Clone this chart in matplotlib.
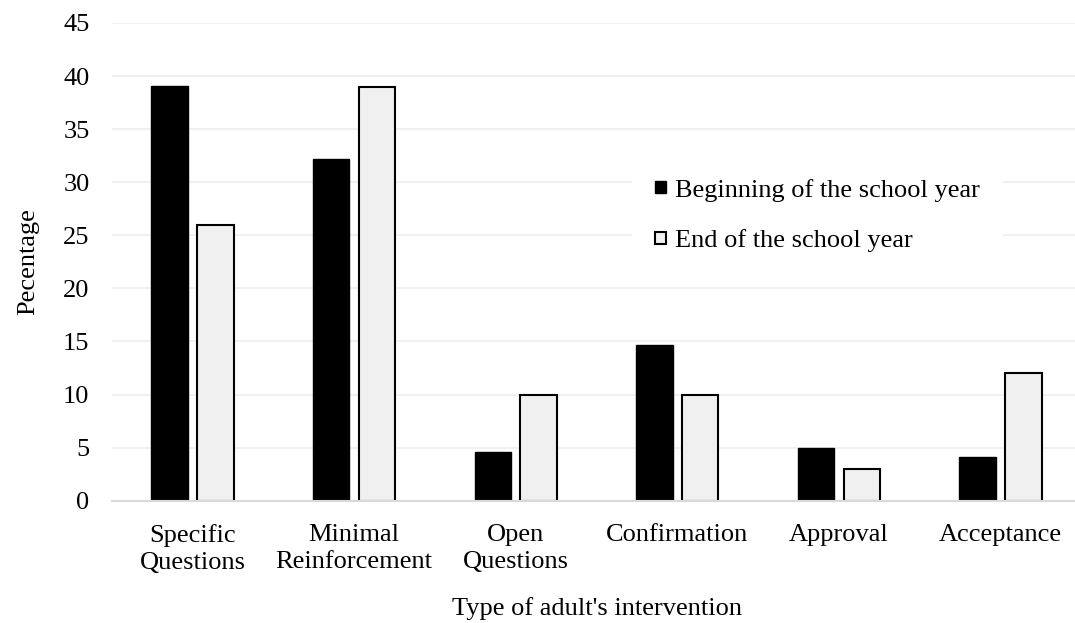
import numpy as np
import matplotlib
matplotlib.use("Agg")
import matplotlib.pyplot as plt

plt.rcParams['font.family'] = ['Liberation Serif', 'DejaVu Serif']

categories = ["Specific\nQuestions", "Minimal\nReinforcement", "Open\nQuestions",
              "Confirmation", "Approval", "Acceptance"]
beginning = [39.1, 32.2, 4.6, 14.7, 5.0, 4.1]
end_year = [26.0, 39.0, 10.0, 10.0, 3.0, 12.0]
series_labels = ["Beginning of the school year", "End of the school year"]

fig = plt.figure(figsize=(10.75, 6.23), dpi=100, facecolor='w')
# the plot area runs a little past the right edge, as in the original
ax = fig.add_axes([0.1039, 0.1963, 0.902, 0.7668])

x = np.arange(len(categories))
w = 0.225
ax.bar(x - 0.142, beginning, w, color='black', edgecolor='black', linewidth=1.0,
       label=series_labels[0], zorder=3)
ax.bar(x + 0.142, end_year, w, color='#f0f0f0', edgecolor='black', linewidth=1.5,
       label=series_labels[1], zorder=3)

ax.set_xlim(-0.5, len(categories) - 0.5)
ax.set_ylim(0, 45)
ax.set_yticks(np.arange(0, 46, 5))
ax.set_xticks(x)
ax.set_xticklabels(categories, fontsize=19, linespacing=1.3)
ax.tick_params(axis='y', labelsize=19, length=0, pad=16)
ax.tick_params(axis='x', length=0, pad=17)
ax.grid(axis='y', color='#f0f0f0', linewidth=1.5, zorder=0)
for s in ['top', 'right', 'left']:
    ax.spines[s].set_visible(False)
ax.spines['bottom'].set_color('#d9d9d9')
ax.spines['bottom'].set_linewidth(1.5)
ax.spines['bottom'].set_zorder(4)

ax.set_xlabel("Type of adult's intervention", fontsize=19, labelpad=16)
ax.set_ylabel("Pecentage", fontsize=19, labelpad=17)

leg = ax.legend(loc='center left', bbox_to_anchor=(0.588, 0.654),
                bbox_transform=fig.transFigure, fontsize=19,
                frameon=True, facecolor='white', edgecolor='none', framealpha=1,
                handlelength=0.4, handleheight=0.3, handletextpad=0.36,
                labelspacing=1.05, borderpad=0.87, borderaxespad=0, fancybox=False)

plt.savefig("out.png", dpi=100, facecolor='w')
